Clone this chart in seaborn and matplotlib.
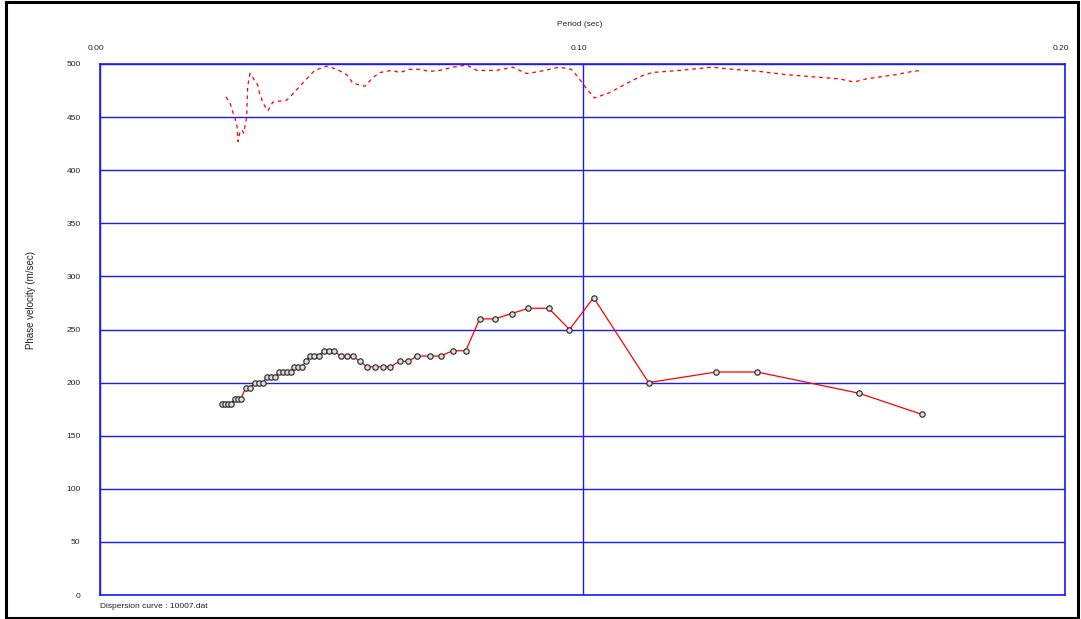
import matplotlib
matplotlib.use("Agg")
import matplotlib.pyplot as plt
import matplotlib.transforms as mtransforms
from matplotlib.patches import Rectangle
import seaborn as sns
import pandas as pd

# Observed phase velocity picks (period in s, velocity in m/s)
period_obs = [0.0253, 0.0259, 0.0265, 0.0271, 0.0280, 0.0286, 0.0292, 0.0302, 0.0311,
              0.0321, 0.0329, 0.0337, 0.0346, 0.0354, 0.0362, 0.0371, 0.0379, 0.0387,
              0.0395, 0.0402, 0.0410, 0.0418, 0.0427, 0.0435, 0.0443, 0.0453, 0.0464,
              0.0474, 0.0484, 0.0499, 0.0511, 0.0524, 0.0538, 0.0553, 0.0569, 0.0586,
              0.0602, 0.0621, 0.0638, 0.0658, 0.0683, 0.0706, 0.0731, 0.0758, 0.0787,
              0.0818, 0.0853, 0.0888, 0.0930, 0.0973, 0.1023, 0.1137, 0.1277, 0.1362,
              0.1573, 0.1704]
velocity_obs = [180, 180, 180, 180, 185, 185, 185, 195, 195,
                200, 200, 200, 205, 205, 205, 210, 210, 210,
                210, 215, 215, 215, 220, 225, 225, 225, 230,
                230, 230, 225, 225, 225, 220, 215, 215, 215,
                215, 220, 220, 225, 225, 225, 230, 230, 260,
                260, 265, 270, 270, 250, 280, 200, 210, 210,
                190, 170]

# Upper curve (dashed)
period_upper = [0.0261, 0.0269, 0.0275, 0.0280, 0.0284, 0.0286, 0.0290, 0.0294, 0.0298,
                0.0304, 0.0306, 0.0311, 0.0317, 0.0327, 0.0331, 0.0338, 0.0348, 0.0358,
                0.0371, 0.0387, 0.0398, 0.0420, 0.0445, 0.0470, 0.0491, 0.0511, 0.0524,
                0.0549, 0.0565, 0.0580, 0.0605, 0.0621, 0.0642, 0.0663, 0.0683, 0.0704,
                0.0731, 0.0760, 0.0781, 0.0808, 0.0822, 0.0855, 0.0884, 0.0911, 0.0952,
                0.0977, 0.0990, 0.1000, 0.1008, 0.1025, 0.1056, 0.1097, 0.1124, 0.1145,
                0.1201, 0.1269, 0.1311, 0.1367, 0.1422, 0.1476, 0.1532, 0.1563, 0.1588,
                0.1650, 0.1683, 0.1704]
velocity_upper = [469, 464, 455, 449, 441, 427, 436, 438, 435,
                  450, 479, 491, 487, 480, 472, 463, 456, 464,
                  465, 466, 471, 482, 494, 498, 495, 490, 482,
                  479, 487, 492, 494, 492, 495, 495, 493, 494,
                  497, 499, 494, 494, 494, 497, 491, 493, 497,
                  495, 488, 482, 477, 468, 473, 483, 489, 492,
                  494, 497, 495, 493, 490, 488, 486, 483, 486,
                  490, 493, 494]

x_ticks = [0.00, 0.10, 0.20]
x_tick_labels = ["0.00", "0.10", "0.20"]
y_ticks = list(range(0, 501, 50))

sns.set_style("white")
plt.rcParams["font.family"] = ["Liberation Sans", "DejaVu Sans"]

W, H = 1081, 619
fig = plt.figure(figsize=(W / 100, H / 100), dpi=100)
ax = fig.add_axes([100 / W, 1 - 595 / H, 965 / W, 531 / H])

obs = pd.DataFrame({"period": period_obs, "velocity": velocity_obs})
upper = pd.DataFrame({"period": period_upper, "velocity": velocity_upper})

sns.lineplot(data=upper, x="period", y="velocity", sort=False, estimator=None,
             color="red", linewidth=0.9, linestyle=(0, (3, 3)), ax=ax, zorder=3)
sns.lineplot(data=obs, x="period", y="velocity", sort=False, estimator=None,
             color="red", linewidth=0.9, marker="o", markersize=3.9,
             markerfacecolor="#dcdcdc", markeredgecolor="#222222",
             markeredgewidth=0.8, ax=ax, zorder=4)

ax.set_xlim(0, 0.2)
ax.set_ylim(0, 500)
ax.xaxis.tick_top()
ax.set_xticks(x_ticks)
ax.set_xticklabels(x_tick_labels)
ax.set_yticks(y_ticks)
ax.set_yticklabels([str(v) for v in y_ticks])
ax.tick_params(axis="x", length=0, pad=9, labelsize=6, labelcolor="#222222")
ax.tick_params(axis="y", length=0, pad=14, labelsize=6, labelcolor="#222222")
shift = mtransforms.ScaledTranslation(-4 / 100, 0, fig.dpi_scale_trans)
for lab in ax.get_xticklabels():
    lab.set_transform(lab.get_transform() + shift)
ax.set_xlabel("")
ax.set_ylabel("")
ax.grid(True, color="#1a1aff", linewidth=1.0)
ax.set_axisbelow(True)
for s in ax.spines.values():
    s.set_color("#1a1aff")
    s.set_linewidth(1.2)
    s.set_visible(True)

fig.text(580 / W, 1 - 25 / H, "Period (sec)", ha="center", va="center",
         fontsize=6, color="#222222")
fig.text(31 / W, 1 - 300 / H, "Phase velocity (m/sec)", ha="center", va="center",
         rotation=90, fontsize=7, color="#222222")
fig.text(100 / W, 1 - 606 / H, "Dispersion curve : 10007.dat", ha="left", va="center",
         fontsize=6, color="#222222")

# Outer frame
fig.patches.append(Rectangle((6 / W, 1 / H), 1072 / W, 616 / H, transform=fig.transFigure,
                             fill=False, edgecolor="black", linewidth=2.2))

fig.savefig("out.png", dpi=100)
